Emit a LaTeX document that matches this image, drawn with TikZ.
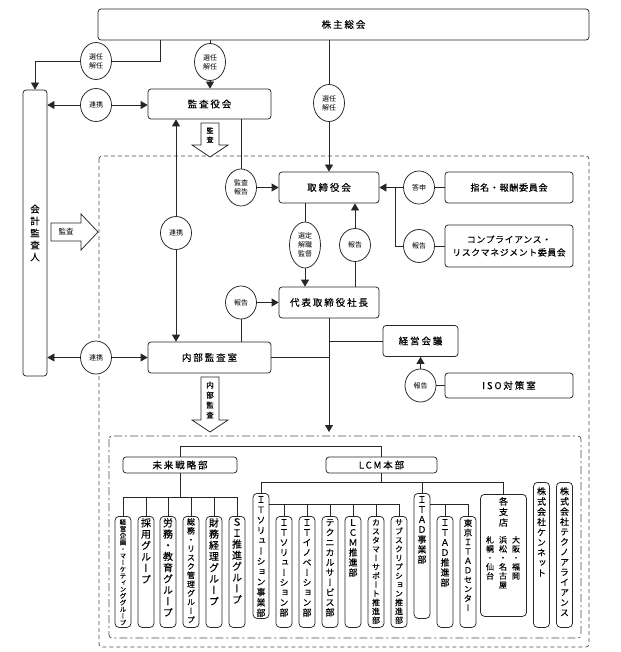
\documentclass[tikz,border=0pt]{standalone}
\usepackage{fontspec}
\setmainfont[FakeBold=0.25]{Noto Sans CJK JP}
\newfontfamily\jpn{Noto Sans CJK JP}
\newfontfamily\jpv[RawFeature=+vert,FakeBold=0.2]{Noto Sans CJK JP}
\newfontfamily\jps[LetterSpace=20,FakeBold=0.25]{Noto Sans CJK JP}
\newfontfamily\jpt[LetterSpace=8,FakeBold=0.25]{Noto Sans CJK JP}
\usetikzlibrary{arrows.meta,shapes.geometric}
\makeatletter
\def\vt@end{\vt@end}
\def\vt@loop#1{\ifx\vt@end#1\else\hbox to 0pt{\hss#1\hss}\expandafter\vt@loop\fi}
\newcommand\VT[3]{\vbox{\fontsize{#2}{#1}\jpv\baselineskip=#1pt\lineskiplimit=-\maxdimen\lineskip=0pt\relax\vt@loop#3\vt@end}}
\makeatother
\begin{document}
\begin{tikzpicture}[x=1pt,y=-1pt,
 ln/.style={line width=0.75pt, draw=black!85},
 arr/.style={ln, -{Triangle[length=7pt,width=8pt]}},
 box/.style={ln, draw, rounded corners=3pt, fill=white, inner sep=0pt, align=center, font=\jps\fontsize{9.5}{13}\selectfont},
 ell/.style={ln, draw, ellipse, fill=white, inner sep=0pt, minimum width=31pt, minimum height=37pt, align=center, font=\jpn\fontsize{7}{9}\selectfont},
 ellone/.style={ell, minimum height=33pt},
 vbx/.style={ln, draw, rounded corners=4pt, inner sep=0pt, minimum width=16pt, anchor=north},
 vtx/.style={inner sep=0pt, anchor=north},
 fat/.style={ln, draw, fill=white, line join=miter},
 frame/.style={line width=0.7pt, draw=black!70, dash pattern=on 4pt off 3pt, rounded corners=3pt},
 frametwo/.style={line width=0.7pt, draw=black!70, dash pattern=on 8pt off 3pt on 2pt off 3pt, rounded corners=3pt}]
\useasboundingbox (0,0) rectangle (620,652);
% frames
\draw[frame] (99,156) rectangle (589,647);
\draw[frametwo] (109,436) rectangle (581,638);
% main boxes
\node[box, minimum width=491pt, minimum height=31pt] (kabunushi) at (343.5,24.5) {株主総会};
\node[box, minimum width=24pt, minimum height=286pt] (kaikei) at (35,233) {\VT{12}{9.5}{会計監査人}};
\node[box, minimum width=123pt, minimum height=30pt] (kansayaku) at (209.5,104) {監査役会};
\node[box, minimum width=100pt, minimum height=31pt] (torishimari) at (329,187.5) {取締役会};
\node[box, minimum width=128pt, minimum height=31pt, font=\jpt\fontsize{9}{13}\selectfont] (shimei) at (509,187.5) {指名・報酬委員会};
\node[box, minimum width=128pt, minimum height=42pt, font=\jpt\fontsize{8.8}{13}\selectfont] (compliance) at (509,246) {コンプライアンス・\\リスクマネジメント委員会};
\node[box, minimum width=100pt, minimum height=31pt] (daihyo) at (329,302.5) {代表取締役社長};
\node[box, minimum width=75pt, minimum height=31pt] (keiei) at (420.5,341) {経営会議};
\node[box, minimum width=123pt, minimum height=31pt] (naibu) at (209.5,357.5) {内部監査室};
\node[box, minimum width=128pt, minimum height=25pt] (iso) at (509,385.5) {ISO対策室};
\node[box, minimum width=114pt, minimum height=16pt] (mirai) at (180,465) {未来戦略部};
\node[box, minimum width=111pt, minimum height=16pt] (lcmhq) at (381.5,465) {LCM本部};
% ellipses
\node[ell] (e1) at (96,61) {選任\\解任};
\node[ell] (e2) at (210,62) {選任\\解任};
\node[ell] (e3) at (329,103) {選任\\解任};
\node[ellone] (e4) at (96,105) {連携};
\node[ell] (e5) at (241,187.5) {監査\\報告};
\node[ellone] (e6) at (176,233) {連携};
\node[ellone] (e7) at (419,187.5) {答申};
\node[ellone] (e8) at (419,246) {報告};
\node[ell, minimum height=46pt] (e9) at (305,245) {選定\\解職\\監督};
\node[ellone] (e10) at (355,245) {報告};
\node[ellone] (e11) at (241,302.5) {報告};
\node[ellone] (e12) at (96,357.5) {連携};
\node[ellone] (e13) at (420.5,385.5) {報告};
% hollow arrows
\draw[fat] (201,123) -- (219,123) -- (219,145) -- (228,145) -- (210,157) -- (192,145) -- (201,145) -- cycle;
\node[inner sep=0pt] (ka1) at (210,135) {\VT{9}{7}{監査}};
\draw[fat] (51,223) -- (81,223) -- (81,214) -- (98,232) -- (81,250) -- (81,241) -- (51,241) -- cycle;
\node[inner sep=0pt, font=\jpn\fontsize{7.5}{8}\selectfont] (ka2) at (66,232) {監査};
\draw[fat] (201,377) -- (219,377) -- (219,420) -- (228,420) -- (210,432) -- (192,420) -- (201,420) -- cycle;
\node[inner sep=0pt] (ka3) at (210,400) {\VT{10}{7.5}{内部監査}};
% connectors top
\coordinate (b1) at (160,61);
\draw[ln] (b1 |- kabunushi.south) -- (b1) -- (e1);
\draw[arr] (e1) -- (kaikei.north |- e1) -- (kaikei.north);
\draw[ln] (kabunushi.south -| e2) -- (e2);
\draw[arr] (e2) -- (kansayaku.north -| e2);
\draw[ln] (kabunushi.south -| e3) -- (e3);
\draw[arr] (e3) -- (torishimari.north);
\draw[arr] (e4) -- (kaikei.east |- e4);
\draw[arr] (e4) -- (kansayaku.west |- e4);
\draw[ln] (kansayaku.south -| e5) -- (e5);
\draw[arr] (e5) -- (torishimari.west |- e5);
\draw[arr] (e6) -- (kansayaku.south -| e6);
\draw[arr] (e6) -- (naibu.north -| e6);
\draw[ln] (shimei.west) -- (e7);
\draw[arr] (e7) -- (torishimari.east |- e7);
\coordinate (j1) at (395,187.5);
\draw[ln] (j1) |- (e8);
\draw[ln] (e8) -- (compliance.west);
\draw[ln] (torishimari.south -| e9) -- (e9);
\draw[arr] (e9) -- (daihyo.north -| e9);
\draw[ln] (daihyo.north -| e10) -- (e10);
\draw[arr] (e10) -- (torishimari.south -| e10);
\draw[ln] (naibu.north -| e11) -- (e11);
\draw[arr] (e11) -- (daihyo.west |- e11);
\coordinate (m1) at (329,432);
\draw[arr] (daihyo.south) -- (m1);
\draw[ln] (daihyo.south |- keiei.west) -- (keiei.west);
\draw[ln] (naibu.east) -- (daihyo.south |- naibu.east);
\draw[arr] (e12) -- (kaikei.east |- e12);
\draw[arr] (e12) -- (naibu.west |- e12);
\draw[ln] (iso.west) -- (e13);
\draw[arr] (e13) -- (keiei.south -| e13);
% bottom boxes
\node[vbx, minimum height=111pt] (g1) at (123,516) {};
\node[vtx] (g1t) at ([yshift=-3pt]g1.north) {\VT{6.7}{6.5}{経営企画・マーケティンググループ}};
\node[vbx, minimum height=111pt] (g2) at (146,516) {};
\node[vtx] (g2t) at ([yshift=-2pt]g2.north) {\VT{11.3}{10}{採用グループ}};
\node[vbx, minimum height=111pt] (g3) at (168,516) {};
\node[vtx] (g3t) at ([yshift=-2pt]g3.north) {\VT{11.2}{10}{労務・教育グループ}};
\node[vbx, minimum height=111pt] (g4) at (191,516) {};
\node[vtx] (g4t) at ([yshift=-2pt]g4.north) {\VT{8.9}{8}{総務・リスク管理グループ}};
\node[vbx, minimum height=111pt] (g5) at (214,516) {};
\node[vtx] (g5t) at ([yshift=-2pt]g5.north) {\VT{11.2}{10}{財務経理グループ}};
\node[vbx, minimum height=111pt] (g6) at (237,516) {};
\node[vtx] (g6t) at ([yshift=-2pt]g6.north) {\VT{11.1}{10}{ＳＩ推進グループ}};
\node[vbx, minimum height=125pt] (its) at (261,493) {};
\node[vtx] (itst) at ([yshift=-3pt]its.north) {\VT{10.3}{9}{ＩＴソリューション事業部}};
\node[vbx, minimum height=111pt] (s1) at (284,516) {};
\node[vtx] (s1t) at ([yshift=-3pt]s1.north) {\VT{10}{9}{ＩＴソリューション部}};
\node[vbx, minimum height=111pt] (s2) at (307,516) {};
\node[vtx] (s2t) at ([yshift=-3pt]s2.north) {\VT{10}{9}{ＩＴイノベーション部}};
\node[vbx, minimum height=111pt] (s3) at (330,516) {};
\node[vtx] (s3t) at ([yshift=-3pt]s3.north) {\VT{10}{9}{テクニカルサービス部}};
\node[vbx, minimum height=111pt] (s4) at (353,516) {};
\node[vtx] (s4t) at ([yshift=-3pt]s4.north) {\VT{10}{9}{ＬＣＭ推進部}};
\node[vbx, minimum height=111pt] (s5) at (376,516) {};
\node[vtx] (s5t) at ([yshift=-3pt]s5.north) {\VT{8.9}{8}{カスタマーサポート推進部}};
\node[vbx, minimum height=111pt] (s6) at (399,516) {};
\node[vtx] (s6t) at ([yshift=-3pt]s6.north) {\VT{8.9}{8}{サブスクリプション推進部}};
\node[vbx, minimum height=125pt] (itad) at (422,493) {};
\node[vtx] (itadt) at ([yshift=-3pt]itad.north) {\VT{10}{9}{ＩＴＡＤ事業部}};
\node[vbx, minimum height=111pt] (d1) at (445,516) {};
\node[vtx] (d1t) at ([yshift=-3pt]d1.north) {\VT{10}{9}{ＩＴＡＤ推進部}};
\node[vbx, minimum height=111pt] (d2) at (468,516) {};
\node[vtx] (d2t) at ([yshift=-3pt]d2.north) {\VT{9.4}{8.5}{東京ＩＴＡＤセンター}};
\node[vbx, minimum width=46pt, minimum height=122pt] (shiten) at (503.5,494) {};
\node[vtx] (shitent) at ([yshift=-3pt]shiten.north) {\VT{10.5}{9}{各支店}};
\node[vtx] (osaka) at (516,536) {\VT{9}{8}{大阪・福岡}};
\node[vtx] (hamamatsu) at (503,536) {\VT{9}{8}{浜松・名古屋}};
\node[vtx] (sapporo) at (490,536) {\VT{9}{8}{札幌・仙台}};
\node[vbx, minimum height=145pt] (kennet) at (541.5,482) {};
\node[vtx] (kennett) at ([yshift=-5pt]kennet.north) {\VT{10.2}{9}{株式会社ケンネット}};
\node[vbx, minimum height=145pt] (techno) at (564.5,482) {};
\node[vtx] (technot) at ([yshift=-5pt]techno.north) {\VT{10.1}{9}{株式会社テクノアライアンス}};
% bottom connectors
\coordinate (t1) at (0,446);
\draw[ln] (mirai.north) -- (mirai.north |- t1) -- (lcmhq.north |- t1) -- (lcmhq.north);
\coordinate (t2) at (0,497);
\draw[ln] (mirai.south) -- (mirai.south |- t2);
\draw[ln] (g1.north |- t2) -- (g6.north |- t2);
\foreach \g in {g1,g2,g3,g4,g5,g6} \draw[ln] (\g.north |- t2) -- (\g.north);
\coordinate (t3) at (0,482);
\draw[ln] (lcmhq.south) -- (lcmhq.south |- t3);
\draw[ln] (its.north |- t3) -- (shiten.north |- t3);
\foreach \g in {its,itad,shiten} \draw[ln] (\g.north |- t3) -- (\g.north);
\coordinate (t4) at (0,504);
\draw[ln] (its.east |- t4) -- (s6.north |- t4);
\foreach \g in {s1,s2,s3,s4,s5,s6} \draw[ln] (\g.north |- t4) -- (\g.north);
\draw[ln] (itad.east |- t4) -- (d2.north |- t4);
\foreach \g in {d1,d2} \draw[ln] (\g.north |- t4) -- (\g.north);
\end{tikzpicture}
\end{document}
